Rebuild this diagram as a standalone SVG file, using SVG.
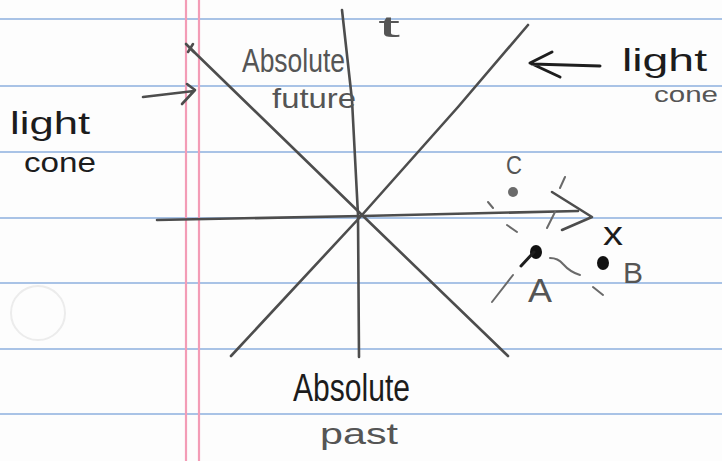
<svg xmlns="http://www.w3.org/2000/svg" width="722" height="461" viewBox="0 0 722 461">
<defs>
<style>
.rule{stroke:#a9c3e6;stroke-width:2.2}
.margin{stroke:#f39cb6;stroke-width:2.2}
.ax{fill:none;stroke:#4d4d4d;stroke-width:2.6;stroke-linecap:round;stroke-linejoin:round}
.ink{fill:none;stroke:#1e1e1e;stroke-width:3;stroke-linecap:round;stroke-linejoin:round}
.faint{fill:none;stroke:#6a6a6a;stroke-width:2;stroke-linecap:round}
.hw{font-family:"Liberation Sans","DejaVu Sans",sans-serif}
.dark{fill:#1c1c1c}
.gray{fill:#555}
</style>
</defs>
<rect width="722" height="461" fill="#fdfdfd"/>
<g id="paper">
<line class="rule" x1="0" y1="19" x2="722" y2="19"/>
<line class="rule" x1="0" y1="86" x2="722" y2="86"/>
<line class="rule" x1="0" y1="152" x2="722" y2="152"/>
<line class="rule" x1="0" y1="218" x2="722" y2="218"/>
<line class="rule" x1="0" y1="283" x2="722" y2="283"/>
<line class="rule" x1="0" y1="349" x2="722" y2="349"/>
<line class="rule" x1="0" y1="414" x2="722" y2="414"/>
<line class="margin" x1="186" y1="0" x2="186" y2="461"/>
<line class="margin" x1="199" y1="0" x2="199" y2="461"/>
<circle cx="38" cy="313" r="27" fill="none" stroke="#ececec" stroke-width="2"/>
</g>
<g id="axes">
<path class="ax" d="M342,10 L352,100 L358,215 L359,357"/>
<path class="ax" d="M157,220 L362,216 L578,211"/>
<polyline class="ax" points="552,192 592,217 562,230"/>
<path class="ax" d="M190,48 L362,215 L508,356"/>
<path class="ax" d="M528,25 L458,107 L362,215 L231,356"/>
<path class="ax" d="M186,44 L194,52 M188,52 L193,44" stroke-width="1.5"/>
</g>
<g id="arrows">
<path class="ax" d="M143,97 L194,91 M182,104 L195,90 L187,84"/>
<path class="ink" d="M600,66 L532,64 M552,52 L530,63 L560,77"/>
</g>
<g id="events">
<path class="faint" d="M565,177 L560,188 M555,212 L547,228 M513,275 L492,302"/>
<path class="faint" d="M488,202 L493,208 M507,225 L517,232 M593,287 L603,295"/>
<path class="faint" d="M550,258 Q558,258 563,264 Q570,272 580,275"/>
<circle cx="513" cy="192" r="5" fill="#6b6b6b"/>
<ellipse cx="536" cy="252" rx="6" ry="7" fill="#111"/>
<path class="ink" d="M534,252 L521,266" stroke-width="2"/>
<ellipse cx="603" cy="263" rx="6" ry="7" fill="#111"/>
</g>
<g id="labels">
<text class="hw gray" x="378" y="37" font-size="30" textLength="22" lengthAdjust="spacingAndGlyphs">t</text>
<text class="hw gray" x="242" y="72" font-size="34" textLength="103" lengthAdjust="spacingAndGlyphs">Absolute</text>
<text class="hw gray" x="272" y="108" font-size="28" textLength="84" lengthAdjust="spacingAndGlyphs">future</text>
<text class="hw dark" x="293" y="401" font-size="38" textLength="117" lengthAdjust="spacingAndGlyphs">Absolute</text>
<text class="hw gray" x="320" y="444" font-size="30" textLength="78" lengthAdjust="spacingAndGlyphs">past</text>
<text class="hw dark" x="622" y="71" font-size="32" textLength="85" lengthAdjust="spacingAndGlyphs">light</text>
<text class="hw gray" x="654" y="102" font-size="22" textLength="64" lengthAdjust="spacingAndGlyphs">cone</text>
<text class="hw dark" x="10" y="134" font-size="32" textLength="80" lengthAdjust="spacingAndGlyphs">light</text>
<text class="hw dark" x="24" y="172" font-size="28" textLength="72" lengthAdjust="spacingAndGlyphs">cone</text>
<text class="hw gray" x="506" y="174" font-size="26" textLength="16" lengthAdjust="spacingAndGlyphs">C</text>
<text class="hw dark" x="603" y="245" font-size="34" textLength="20" lengthAdjust="spacingAndGlyphs">x</text>
<text class="hw gray" x="528" y="302" font-size="33" textLength="24" lengthAdjust="spacingAndGlyphs">A</text>
<text class="hw gray" x="623" y="283" font-size="29" textLength="20" lengthAdjust="spacingAndGlyphs">B</text>
</g>
</svg>
